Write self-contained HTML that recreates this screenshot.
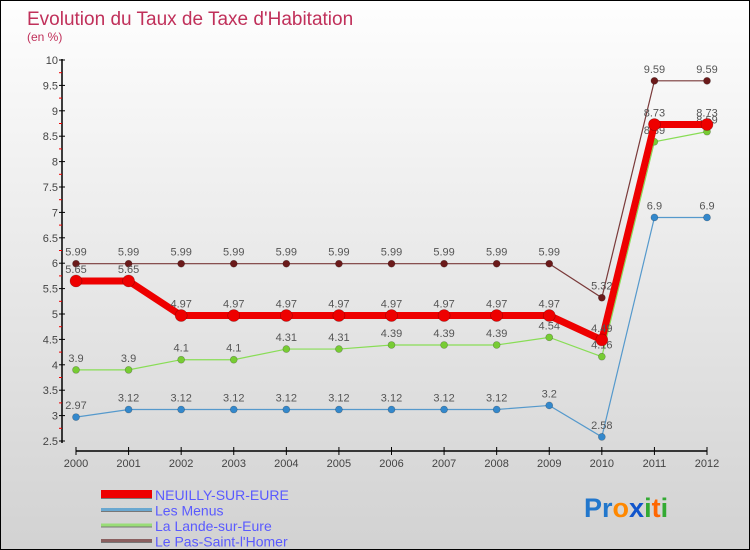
<!DOCTYPE html>
<html><head><meta charset="utf-8"><style>
body{margin:0;width:750px;height:550px;overflow:hidden;font-family:"Liberation Sans",sans-serif}
#wrap{position:absolute;left:0;top:0;width:748px;height:548px;border:1px solid #000;background:linear-gradient(#fefefe,#d2d2d2)}
</style></head><body>
<div id="wrap">
<svg id="chart" width="748" height="548" style="position:absolute;left:0;top:0"></svg>
</div>
<script>
const years=["2000","2001","2002","2003","2004","2005","2006","2007","2008","2009","2010","2011","2012"];
const neuilly=[5.65,5.65,4.97,4.97,4.97,4.97,4.97,4.97,4.97,4.97,4.49,8.73,8.73];
const menus=[2.97,3.12,3.12,3.12,3.12,3.12,3.12,3.12,3.12,3.2,2.58,6.9,6.9];
const lande=[3.9,3.9,4.1,4.1,4.31,4.31,4.39,4.39,4.39,4.54,4.16,8.39,8.59];
const pas=[5.99,5.99,5.99,5.99,5.99,5.99,5.99,5.99,5.99,5.99,5.32,9.59,9.59];
const yTicks=[2.5,3,3.5,4,4.5,5,5.5,6,6.5,7,7.5,8,8.5,9,9.5,10];
const NS="http://www.w3.org/2000/svg";
const svg=document.getElementById('chart');
function X(i){return 75+i*(706-75)/12;}
function Y(v){return 440-(v-2.5)*(440-59)/7.5;}
function el(t,a,p){const e=document.createElementNS(NS,t);for(const k in a)e.setAttribute(k,a[k]);(p||svg).appendChild(e);return e;}
function txt(x,y,s,a){const t=el('text',Object.assign({x:x,y:y,'font-size':11,fill:'#444','font-family':'Liberation Sans, sans-serif'},a||{}));t.textContent=s;return t;}
// title
let t=txt(26,24,"Evolution du Taux de Taxe d'Habitation",{'font-size':19,fill:'#c0305a'});

t=txt(26,40,"(en %)",{'font-size':12,fill:'#c0305a'});

// y axis
let ax=el('line',{x1:61,y1:58,x2:61,y2:442,stroke:'#000','stroke-width':1.5});

yTicks.forEach((v,i)=>{
  const y=Y(v);
  el('line',{x1:58,y1:y,x2:64,y2:y,stroke:'#000'});
  const l=txt(57,y+4,String(v),{'text-anchor':'end'});
  
  if(i<yTicks.length-1){el('line',{x1:58,y1:Y(v+0.25),x2:61,y2:Y(v+0.25),stroke:'#e00'});}
});
// x axis
ax=el('line',{x1:75,y1:450,x2:706,y2:450,stroke:'#000','stroke-width':1.5});

years.forEach((y,i)=>{
  el('line',{x1:X(i),y1:446,x2:X(i),y2:454,stroke:'#000'});
  const l=txt(X(i),466,y,{'text-anchor':'middle'});
  
});
function series(data,color,w,r,name,dot){
  const g=el('g',{});
  
  
  el('polyline',{points:data.map((v,i)=>X(i)+','+Y(v)).join(' '),fill:'none',stroke:color,'stroke-width':w},g);
  data.forEach((v,i)=>{
    const c=el('circle',{cx:X(i),cy:Y(v),r:r,fill:dot,stroke:'rgba(0,0,0,0.3)','stroke-width':0.6},g);
    
    
    txt(X(i),Y(v)-8,String(v),{'text-anchor':'middle',fill:'#555'},g);
  });
}
series(pas,'#7a3a3a',1.2,3.5,'series-le-pas-saint-l-homer','#6b1a1a');
series(lande,'#88dd55',1.2,3.5,'series-la-lande-sur-eure','#77cc33');
series(menus,'#5599cc',1.2,3.5,'series-les-menus','#3388cc');
series(neuilly,'#ee0000',7,6,'series-neuilly-sur-eure','#ee0000');
// legend
const leg=[["NEUILLY-SUR-EURE","#ee0000",8],["Les Menus","#6aa8d0",3],["La Lande-sur-Eure","#99dd77",3],["Le Pas-Saint-l'Homer","#8a6060",3]];
leg.forEach((L,i)=>{
  const g=el('g',{});
  
  
  const y=493+i*15.5;
  el('line',{x1:100,y1:y+1,x2:151,y2:y+1,stroke:'#777','stroke-width':L[2]},g);
  el('line',{x1:100,y1:y,x2:151,y2:y,stroke:L[1],'stroke-width':L[2]},g);
  txt(154,y+6,L[0],{'font-size':14,fill:'#5a5aff'},g);
});
// logo
const lg=el('text',{x:583,y:516,'font-size':27,'font-weight':'bold','font-family':'Liberation Sans, sans-serif'});

[["P","#2277cc"],["r","#2277cc"],["o","#ff8800"],["x","#1155cc"],["i","#33aa33"],["t","#ff6600"],["i","#33aa33"]].forEach(c=>{const s=el('tspan',{fill:c[1]},lg);s.textContent=c[0];});
</script>
</body></html>
